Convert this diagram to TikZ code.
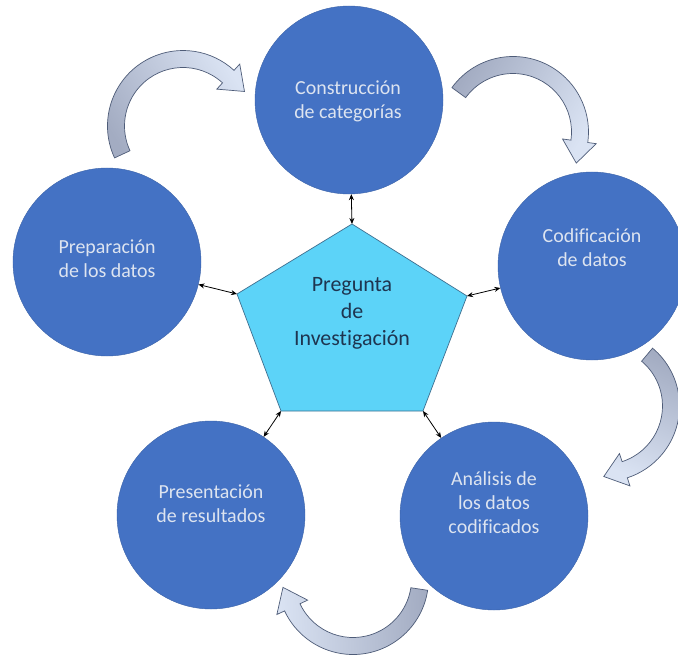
\documentclass[tikz,border=0pt]{standalone}
\usepackage{fontspec}
\setmainfont{Carlito}[Ligatures={NoCommon,NoRare,NoContextual}]
\usetikzlibrary{calc,arrows.meta}
\definecolor{cblue}{HTML}{4472C4}
\definecolor{cedge}{HTML}{3A62A8}
\definecolor{ctxt}{HTML}{DDE4F0}
\definecolor{pfill}{HTML}{5CD3F8}
\definecolor{pedge}{HTML}{3F6F8F}
\definecolor{ptxt}{HTML}{1E3550}
\definecolor{adark}{HTML}{A3ACC2}
\definecolor{alight}{HTML}{DAE3F3}
\definecolor{aedge}{HTML}{4E5C78}
\newcommand{\bentarrow}[4]{%
  \shadedraw[bent, shading angle=#4]
    ($(#1)+(#2:75.5)$) arc[start angle=#2, end angle=#3, radius=75.5]
    -- ($(#1)+(#3:84)$)
    -- ($(#1)+(#3:67)+({#3+90}:22)$)
    -- ($(#1)+(#3:50)$)
    -- ($(#1)+(#3:58.5)$) arc[start angle=#3, end angle=#2, radius=58.5]
    -- cycle;}
\begin{document}
\begin{tikzpicture}[x=1bp,y=-1bp,
  circ/.style={circle, fill=cblue, draw=cedge, line width=0.4bp, minimum size=188bp, inner sep=0pt},
  ctext/.style={text=ctxt, align=center, font=\fontsize{20}{24}\selectfont},
  ptext/.style={text=ptxt, align=center, font=\fontsize{22}{27}\selectfont},
  pent/.style={fill=pfill, draw=pedge, line width=0.7bp, line join=miter},
  link/.style={{Stealth[length=6bp,width=5bp]}-{Stealth[length=6bp,width=5bp]}, line width=0.8bp, black},
  bent/.style={draw=aedge, line width=0.7bp, bottom color=adark, top color=alight}]
\useasboundingbox (0,0) rectangle (678,655);
\clip (0,0) rectangle (678,655);
\fill[white] (0,0) rectangle (678,655);

% centres of the curved block arrows
\coordinate (a1) at (183,126);
\coordinate (a2) at (513,132);
\coordinate (a3) at (604,406);
\coordinate (a4) at (353,579);
\bentarrow{a1}{155}{312.5}{-59}
\bentarrow{a2}{216}{368}{-120}
\bentarrow{a3}{310}{432}{157}
\bentarrow{a4}{8.6}{155}{92.6}

% circles
\node[circ] (ctop) at (349,100) {};
\node[circ] (cleft) at (107,262) {};
\node[circ] (cright) at (592,266) {};
\node[circ] (cbr) at (494,516) {};
\node[circ] (cbl) at (211,515) {};

% pentagon
\coordinate (p1) at (352,224);
\coordinate (p2) at (237,294);
\coordinate (p3) at (467,296);
\coordinate (p4) at (281,411);
\coordinate (p5) at (423,411);
\draw[pent] (p1) -- (p3) -- (p5) -- (p4) -- (p2) -- cycle;
\node[ptext] (q) at (352,313) {Pregunta\\de\\Investigación};

% connectors
\draw[link] (ctop) -- (p1);
\draw[link] (cleft) -- (p2);
\draw[link] (cright) -- (p3);
\draw[link] (cbl) -- (p4);
\draw[link] (cbr) -- (p5);

% texts
\node[ctext] (ttop) at (348,101) {Construcción\\de categorías};
\node[ctext] (tleft) at (107,259) {Preparación\\de los datos};
\node[ctext] (tright) at (592,248) {Codificación\\de datos};
\node[ctext] (tbr) at (494,503) {Análisis de\\los datos\\codificados};
\node[ctext] (tbl) at (211,504) {Presentación\\de resultados};
\end{tikzpicture}
\end{document}
